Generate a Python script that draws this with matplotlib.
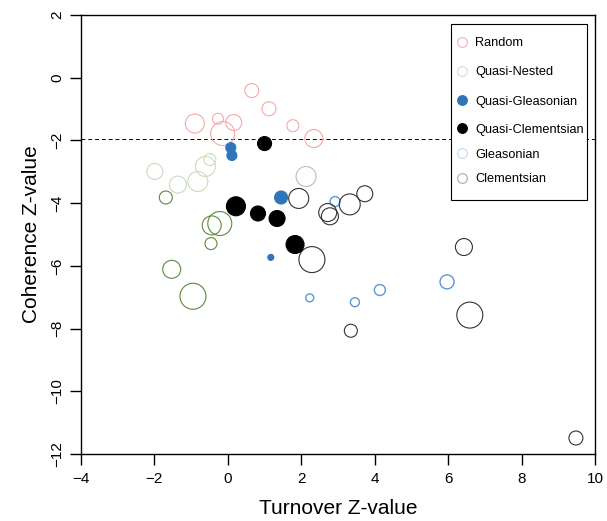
import matplotlib
matplotlib.use("Agg")
import matplotlib.pyplot as plt
from matplotlib.patches import Rectangle

plt.rcParams['font.family'] = ['Liberation Sans', 'DejaVu Sans']

# ---- data ----
random_x = [0.65, 1.12, -0.90, -0.27, 0.16, -0.14, 1.77, 2.34]
random_y = [-0.41, -0.99, -1.46, -1.31, -1.43, -1.78, -1.53, -1.94]
random_s = [7, 7, 9.5, 5.5, 8, 12, 6, 9]

qnested_x = [-1.99, -0.49, -0.61, -1.36, -0.82]
qnested_y = [-2.99, -2.61, -2.83, -3.41, -3.31]
qnested_s = [8, 6, 10, 8.5, 10]

green_x = [-1.69, -0.44, -0.22, -0.46, -1.53, -0.95]
green_y = [-3.82, -4.71, -4.65, -5.29, -6.11, -6.97]
green_s = [6.5, 9.5, 12, 6, 9, 13]

qgleason_x = [0.08, 0.11, 1.45, 1.17]
qgleason_y = [-2.23, -2.48, -3.82, -5.73]
qgleason_s = [5, 5, 6.5, 3]

qclement_x = [1.00, 0.22, 0.82, 1.34, 1.83]
qclement_y = [-2.10, -4.10, -4.33, -4.49, -5.32]
qclement_s = [7, 9.5, 7.5, 8, 9]

gleason_x = [2.23, 2.92, 3.46, 4.14, 5.97]
gleason_y = [-7.02, -3.95, -7.16, -6.77, -6.51]
gleason_s = [4, 5, 4.5, 5.5, 7]

clement_x = [1.93, 2.72, 2.78, 3.32, 3.73, 2.29, 6.43, 6.59, 3.35, 9.48]
clement_y = [-3.85, -4.30, -4.42, -4.04, -3.70, -5.80, -5.40, -7.57, -8.07, -11.49]
clement_s = [10, 9, 8.5, 10.5, 8, 13, 8.5, 13, 6.5, 7]

grey_x = [2.13]
grey_y = [-3.15]
grey_s = [10]

threshold = -1.96

legend_labels = ["Random", "Quasi-Nested", "Quasi-Gleasonian",
                 "Quasi-Clementsian", "Gleasonian", "Clementsian"]
legend_edge = ['#F7B0B0', '#D5DEC8', '#2F75BA', 'black', '#C4D8F0', '#A8A8A8']
legend_face = ['none', 'none', '#2F75BA', 'black', 'none', 'none']

x_ticks = [-4, -2, 0, 2, 4, 6, 8, 10]
y_ticks = [2, 0, -2, -4, -6, -8, -10, -12]

# ---- figure ----
W, H = 607, 521
L, R, T, B = 81, 595, 15, 454
fig = plt.figure(figsize=(W / 100, H / 100), dpi=100)
ax = fig.add_axes([L / W, 1 - B / H, (R - L) / W, (B - T) / H])


def circles(xs, ys, rs, edge, face='none', lw=0.8):
    # rs: radius in pixels -> marker area in points^2
    sizes = [(2 * r * 0.72) ** 2 for r in rs]
    ax.scatter(xs, ys, s=sizes, facecolors=face, edgecolors=edge,
               linewidths=lw, zorder=3)


ax.axhline(threshold, color='black', lw=0.7, ls=(0, (4, 3)), zorder=1)

circles(random_x, random_y, random_s, '#F7A8A8')
circles(qnested_x, qnested_y, qnested_s, '#CCDABD')
circles(green_x, green_y, green_s, '#5E8A3C')
circles(grey_x, grey_y, grey_s, '#BBBBBB')
circles(gleason_x, gleason_y, gleason_s, '#5B97D6', lw=1.0)
circles(clement_x, clement_y, clement_s, '#333333')
circles(qgleason_x, qgleason_y, qgleason_s, '#2F75BA', face='#2F75BA')
circles(qclement_x, qclement_y, qclement_s, 'black', face='black')

ax.set_xlim(-4, 10)
ax.set_ylim(-12, 2)
ax.set_xticks(x_ticks)
ax.set_xticklabels(["\u2212" + str(-t) if t < 0 else str(t) for t in x_ticks])
ax.set_yticks(y_ticks)
ax.set_yticklabels(["\u2212" + str(-t) if t < 0 else str(t) for t in y_ticks],
                   rotation=90, va='center')
ax.tick_params(direction='out', length=8, width=1, labelsize=11)
ax.tick_params(axis='y', pad=4)
ax.tick_params(axis='x', pad=5)
for sp in ax.spines.values():
    sp.set_linewidth(1)

ax.set_xlabel("Turnover Z-value", fontsize=15, labelpad=9)
ax.set_ylabel("Coherence Z-value", fontsize=15, labelpad=7)

# ---- legend (drawn in axes coordinates) ----
def ax_x(px):
    return (px - L) / (R - L)


def ax_y(py):
    return 1 - (py - T) / (B - T)


ax.add_patch(Rectangle((ax_x(451), ax_y(200)), ax_x(587) - ax_x(451),
                       ax_y(24) - ax_y(200), transform=ax.transAxes,
                       facecolor='white', edgecolor='black', lw=0.8,
                       zorder=5))
row_y = [42, 71, 100, 128, 153, 178]
for lab, ec, fc, py in zip(legend_labels, legend_edge, legend_face, row_y):
    ax.plot([ax_x(462)], [ax_y(py)], ls='none', marker='o', ms=7,
            mfc=fc, mec=ec, mew=0.8, transform=ax.transAxes, zorder=6,
            clip_on=False)
    ax.text(ax_x(475), ax_y(py), lab, transform=ax.transAxes, fontsize=9.2,
            va='center_baseline', ha='left', zorder=6)

fig.savefig("out.png", dpi=100)
